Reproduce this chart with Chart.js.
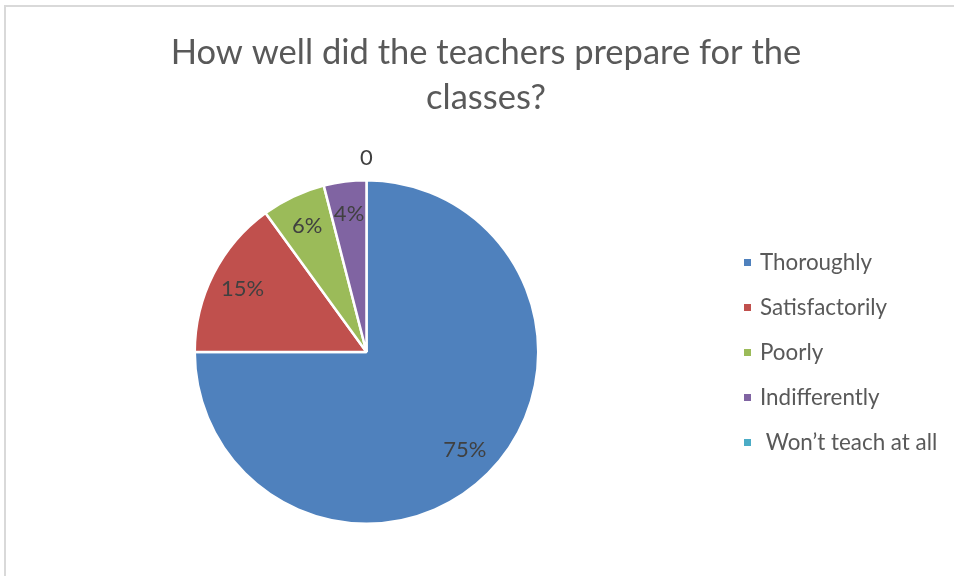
<!DOCTYPE html>
<html>
<head>
<meta charset="utf-8">
<script src="https://cdn.jsdelivr.net/npm/chart.js@4.4.1/dist/chart.umd.min.js"></script>
<style>
  html, body { margin: 0; padding: 0; background: #fff; }
  canvas { display: block; }
</style>
</head>
<body>
<canvas id="myChart" width="954" height="576"></canvas>
<script>
const titleLines = ['How well did the teachers prepare for the', 'classes?'];
const labels = ['Thoroughly', 'Satisfactorily', 'Poorly', 'Indifferently', ' Won\u2019t teach at all'];
const shares = [75, 15, 6, 4, 0];
const colors = ['#4F81BD', '#C0504D', '#9BBB59', '#8064A2', '#4BACC6'];

const FONT = 'Lato, "Open Sans", sans-serif';
const TEXT = '#595959';

// frame, title and legend drawn straight onto the canvas
const decor = {
  id: 'decor',
  beforeDraw(chart) {
    const c = chart.ctx;
    c.save();
    c.strokeStyle = '#d9d9d9';
    c.lineWidth = 2;
    c.beginPath();
    c.moveTo(5, 576);
    c.lineTo(5, 6);
    c.lineTo(954, 6);
    c.stroke();
    c.restore();
  },
  afterDraw(chart) {
    const c = chart.ctx;
    c.save();
    c.fillStyle = TEXT;
    c.textAlign = 'center';
    c.textBaseline = 'middle';
    c.font = '34.5px ' + FONT;
    titleLines.forEach((t, i) => c.fillText(t, 486, 53 + i * 45));

    c.font = '22.4px ' + FONT;
    c.textAlign = 'left';
    chart.data.labels.forEach((lab, i) => {
      const y = 263 + i * 45;
      c.fillStyle = colors[i];
      c.fillRect(744, y - 4, 7, 7);
      c.fillStyle = TEXT;
      c.fillText(lab, 760, y);
    });
    c.restore();
  }
};

// data labels inside the slices (zero one sits just outside)
const sliceLabels = {
  id: 'sliceLabels',
  afterDatasetsDraw(chart) {
    const c = chart.ctx;
    const meta = chart.getDatasetMeta(0);
    c.save();
    c.fillStyle = '#404040';
    c.font = '22px ' + FONT;
    c.textAlign = 'center';
    c.textBaseline = 'middle';
    meta.data.forEach((arc, i) => {
      const v = chart.data.datasets[0].data[i];
      const mid = (arc.startAngle + arc.endAngle) / 2;
      const r = v > 0 ? arc.outerRadius * 0.81 : arc.outerRadius + 22;
      const x = arc.x + Math.cos(mid) * r;
      const y = arc.y + Math.sin(mid) * r;
      c.fillText(v > 0 ? v + '%' : '0', x, y);
    });
    c.restore();
  }
};

const ctx = document.getElementById('myChart');

const myChart = new Chart(ctx, {
  type: 'pie',
  data: {
    labels: labels,
    datasets: [{
      data: shares,
      backgroundColor: colors,
      borderColor: '#ffffff',
      borderWidth: 2.5
    }]
  },
  options: {
    responsive: false,
    animation: false,
    devicePixelRatio: 1,
    layout: {
      padding: { left: 193, right: 414, top: 179, bottom: 51 }
    },
    plugins: {
      legend: { display: false },
      title: { display: false },
      tooltip: { enabled: false }
    }
  },
  plugins: [decor, sliceLabels]
});
</script>
</body>
</html>
